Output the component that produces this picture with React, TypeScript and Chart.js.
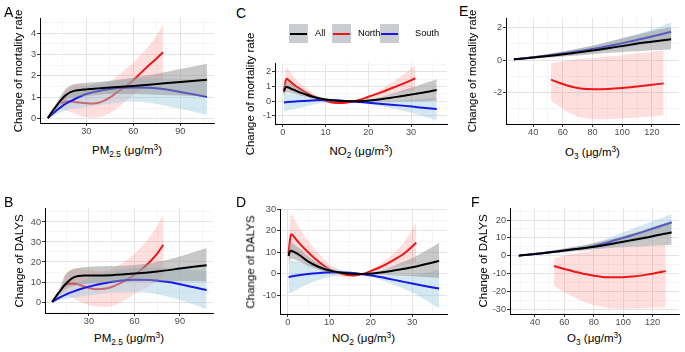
import React, { useEffect, useRef } from 'react';
import { Chart, registerables } from 'chart.js';
Chart.register(...registerables);

// ---------- tick values ----------
const PM_X_MAJOR = [30, 60, 90];
const PM_X_MINOR = [15, 45, 75, 105];
const NO2_X_MAJOR = [0, 10, 20, 30];
const NO2_X_MINOR = [5, 15, 25, 35];
const O3_X_MAJOR = [40, 60, 80, 100, 120];
const O3_X_MINOR = [30, 50, 70, 90, 110, 130];
const A_Y_MAJOR = [0, 1, 2, 3, 4];
const A_Y_MINOR = [0.5, 1.5, 2.5, 3.5, 4.5];
const B_Y_MAJOR = [0, 10, 20, 30, 40];
const B_Y_MINOR = [-5, 5, 15, 25, 35, 45];
const C_Y_MAJOR = [-1, 0, 1, 2];
const C_Y_MINOR = [-1.5, -0.5, 0.5, 1.5, 2.5];
const D_Y_MAJOR = [-10, 0, 10, 20, 30];
const D_Y_MINOR = [-15, -5, 5, 15, 25];
const E_Y_MAJOR = [-2, 0, 2];
const E_Y_MINOR = [-3, -1, 1];
const F_Y_MAJOR = [-30, -20, -10, 0, 10, 20];
const F_Y_MINOR = [-25, -15, -5, 5, 15, 25];

const LEGEND_LABELS = ['All', 'North', 'South'];

// ---------- Panel A: PM2.5 / mortality ----------
const A_ALL_X = [5.5, 8, 11, 14, 17, 20, 23, 27, 35, 45, 60, 75, 90, 107];
const A_ALL_Y = [0.03, 0.3, 0.6, 0.88, 1.1, 1.24, 1.31, 1.35, 1.4, 1.46, 1.53, 1.62, 1.71, 1.82];
const A_ALL_LO = [0.0, 0.2, 0.45, 0.65, 0.85, 0.95, 1.0, 1.05, 1.1, 1.15, 1.15, 1.12, 1.08, 1.04];
const A_ALL_HI = [0.07, 0.4, 0.75, 1.1, 1.4, 1.55, 1.62, 1.66, 1.7, 1.76, 1.92, 2.1, 2.32, 2.57];
const A_NORTH_X = [14, 17, 20, 24, 28, 32, 36, 40, 45, 50, 55, 60, 65, 70, 75, 79];
const A_NORTH_Y = [0.7, 0.8, 0.8, 0.77, 0.73, 0.71, 0.72, 0.8, 0.98, 1.25, 1.5, 1.8, 2.15, 2.5, 2.82, 3.1];
const A_NORTH_LO = [0.45, 0.4, 0.3, 0.2, 0.1, 0.05, 0.05, 0.1, 0.25, 0.5, 0.8, 1.1, 1.4, 1.6, 1.75, 1.82];
const A_NORTH_HI = [1.0, 1.3, 1.5, 1.55, 1.55, 1.55, 1.55, 1.6, 1.75, 2.0, 2.3, 2.6, 3.0, 3.4, 3.9, 4.4];
const A_SOUTH_X = [5.5, 8, 11, 14, 17, 20, 25, 30, 40, 50, 60, 70, 80, 90, 100, 107];
const A_SOUTH_Y = [0.03, 0.2, 0.38, 0.55, 0.7, 0.82, 1.0, 1.15, 1.33, 1.43, 1.46, 1.44, 1.37, 1.25, 1.12, 1.02];
const A_SOUTH_LO = [0.0, 0.1, 0.2, 0.3, 0.38, 0.45, 0.5, 0.55, 0.65, 0.75, 0.8, 0.75, 0.62, 0.46, 0.3, 0.19];
const A_SOUTH_HI = [0.06, 0.3, 0.55, 0.8, 1.0, 1.15, 1.35, 1.5, 1.7, 1.8, 1.85, 1.87, 1.88, 1.85, 1.85, 1.85];

// ---------- Panel B: PM2.5 / DALYs ----------
const B_ALL_X = [5.7, 8, 11, 14, 17, 20, 23, 27, 35, 45, 60, 75, 90, 107.6];
const B_ALL_Y = [0, 2.5, 5.5, 8.5, 10.8, 12.3, 13, 13.2, 13.2, 13.4, 14.2, 15.3, 16.7, 18.4];
const B_ALL_LO = [0, 1.5, 3.5, 5.5, 7, 8, 8.5, 9, 9.5, 10, 10.3, 10.4, 10.4, 10.3];
const B_ALL_HI = [0.3, 3.5, 7.5, 13, 15.5, 16.5, 17, 17.5, 17.8, 18, 18.5, 20, 22.8, 27];
const B_NORTH_X = [13, 16, 19, 22, 26, 30, 35, 40, 45, 50, 55, 60, 65, 70, 75, 79];
const B_NORTH_Y = [8, 9, 9.3, 9, 8, 7, 6.4, 6.6, 7.5, 9.2, 11.2, 13.6, 16.5, 20, 24.2, 28.6];
const B_NORTH_LO = [4, 3, 2, 1, -0.5, -1.5, -2.3, -2.5, -2, -0.5, 1.5, 4, 6, 8, 10.5, 12.5];
const B_NORTH_HI = [12, 15, 16.5, 17, 16.5, 16, 15.5, 15.5, 16.5, 18.5, 21, 24, 28, 32.5, 38, 44];
const B_SOUTH_X = [5.7, 10, 15, 20, 25, 30, 40, 50, 60, 70, 80, 90, 100, 107.6];
const B_SOUTH_Y = [0, 2, 3.8, 5.3, 6.6, 7.7, 9.4, 10.6, 11.1, 11, 10.2, 8.9, 7.2, 6];
const B_SOUTH_LO = [0, 0.8, 1.5, 2.2, 2.8, 3.3, 4.2, 5, 5, 4.5, 3, 1, -1.5, -3.5];
const B_SOUTH_HI = [0, 3, 5.8, 8.2, 10.2, 12, 14.5, 16, 17, 17.3, 17, 16.5, 16, 15.5];

// ---------- Panel C: NO2 / mortality ----------
const C_ALL_X = [0.3, 0.6, 0.9, 2, 3, 5, 7, 10, 13, 16, 19, 22, 25, 28, 31, 34, 36];
const C_ALL_Y = [0.7, 0.92, 0.97, 0.85, 0.72, 0.5, 0.3, 0.12, 0.03, 0, 0.02, 0.1, 0.22, 0.36, 0.5, 0.65, 0.77];
const C_ALL_LO = [0.3, 0.55, 0.6, 0.55, 0.48, 0.33, 0.2, 0.07, 0.01, -0.01, -0.02, -0.03, -0.03, -0.02, 0, 0.02, 0.03];
const C_ALL_HI = [1.1, 1.3, 1.35, 1.15, 0.97, 0.67, 0.42, 0.18, 0.05, 0.01, 0.06, 0.22, 0.45, 0.75, 1.0, 1.3, 1.5];
const C_NORTH_X = [0.3, 0.5, 0.9, 1.5, 2.5, 4, 6, 8, 10, 12, 14, 16, 18, 20, 23, 26, 29, 31];
const C_NORTH_Y = [0.6, 1.1, 1.52, 1.4, 1.15, 0.85, 0.5, 0.22, 0.03, -0.1, -0.12, -0.04, 0.1, 0.3, 0.6, 0.95, 1.3, 1.56];
const C_NORTH_LO = [0.3, 0.6, 0.85, 0.8, 0.65, 0.45, 0.22, 0.05, -0.08, -0.18, -0.18, -0.06, 0.03, 0.12, 0.3, 0.5, 0.65, 0.72];
const C_NORTH_HI = [0.9, 1.6, 2.3, 2.1, 1.7, 1.25, 0.78, 0.4, 0.14, -0.02, -0.06, -0.02, 0.13, 0.38, 0.8, 1.35, 2.0, 2.45];
const C_SOUTH_X = [0.3, 3, 6, 9, 12, 16, 20, 24, 28, 32, 36];
const C_SOUTH_Y = [-0.08, -0.02, 0.04, 0.08, 0.07, 0, -0.1, -0.2, -0.3, -0.42, -0.53];
const C_SOUTH_LO = [-0.7, -0.5, -0.3, -0.1, 0.0, -0.01, -0.2, -0.4, -0.65, -0.95, -1.3];
const C_SOUTH_HI = [0.5, 0.45, 0.38, 0.25, 0.14, 0.01, 0.0, 0.0, 0.05, 0.15, 0.25];

// ---------- Panel D: NO2 / DALYs ----------
const D_ALL_X = [0.2, 0.5, 0.8, 1.5, 3, 5, 7, 9, 11, 13, 15, 17, 19, 22, 25, 28, 31, 34, 36.5];
const D_ALL_Y = [8.3, 10.3, 10.7, 10.2, 8.5, 5.6, 3.6, 2.1, 1.1, 0.4, 0, -0.1, 0, 0.5, 1.3, 2.3, 3.4, 4.8, 6];
const D_ALL_LO = [5, 6.5, 7, 6.7, 5.5, 3.6, 2.2, 1.1, 0.5, 0.1, -0.1, -0.2, -0.2, -0.4, -0.7, -1, -1.3, -1.7, -2];
const D_ALL_HI = [11.5, 14, 14.5, 13.7, 11.5, 8, 5.4, 3.3, 1.8, 0.8, 0.2, 0.05, 0.3, 1.4, 3.3, 5.6, 8.3, 11.5, 14.5];
const D_NORTH_X = [0.2, 0.5, 0.8, 1.2, 2, 3, 4.5, 6, 8, 10, 12, 14, 16, 18, 20, 22, 24, 26, 28, 31];
const D_NORTH_Y = [9.5, 15, 18.4, 18, 16, 13.8, 10.8, 8, 4.8, 2.2, 0.5, -0.5, -0.8, -0.2, 1.2, 2.8, 4.7, 6.9, 9.3, 14.5];
const D_NORTH_LO = [6, 8, 9.5, 9.5, 8.5, 7, 5, 3.2, 1.2, -0.2, -1.2, -1.7, -1.5, -0.5, 0.5, 1.5, 2.5, 3.3, 4, 5];
const D_NORTH_HI = [13, 22, 28, 27, 24, 20.8, 16.5, 12.8, 8.5, 4.7, 2.2, 0.7, 0, 0.1, 1.9, 4.1, 7, 10.5, 14.5, 24];
const D_SOUTH_X = [0.2, 3, 6, 9, 12, 15, 18, 21, 24, 27, 30, 33, 36.5];
const D_SOUTH_Y = [-1.5, -0.6, 0.1, 0.6, 0.7, 0.4, -0.2, -1.1, -2.2, -3.4, -4.6, -5.7, -6.9];
const D_SOUTH_LO = [-9.5, -6.5, -4, -2, -0.7, -0.1, -0.3, -2, -4, -6.2, -8.8, -12, -16];
const D_SOUTH_HI = [6.5, 5.3, 4.2, 3.2, 2.1, 0.9, -0.1, -0.2, -0.4, -0.6, -0.5, 0.3, 2];

// ---------- Panel E: O3 / mortality ----------
const E_ALL_X = [27, 35, 45, 55, 65, 75, 85, 95, 105, 115, 125, 133];
const E_ALL_Y = [0.05, 0.11, 0.2, 0.3, 0.41, 0.53, 0.66, 0.8, 0.94, 1.08, 1.2, 1.29];
const E_ALL_LO = [0.02, 0.06, 0.12, 0.18, 0.25, 0.32, 0.4, 0.47, 0.53, 0.58, 0.62, 0.65];
const E_ALL_HI = [0.08, 0.17, 0.3, 0.45, 0.61, 0.8, 1.0, 1.22, 1.45, 1.68, 1.9, 2.05];
const E_NORTH_X = [52, 58, 64, 70, 76, 82, 90, 100, 110, 120, 128];
const E_NORTH_Y = [-1.21, -1.42, -1.6, -1.72, -1.79, -1.8, -1.78, -1.72, -1.63, -1.53, -1.44];
const E_NORTH_LO = [-2.5, -2.9, -3.25, -3.48, -3.6, -3.65, -3.65, -3.6, -3.55, -3.48, -3.4];
const E_NORTH_HI = [-0.2, -0.1, -0.02, 0.05, 0.1, 0.15, 0.22, 0.3, 0.4, 0.5, 0.6];
const E_SOUTH_X = [27, 35, 45, 55, 65, 75, 85, 95, 105, 115, 125, 133];
const E_SOUTH_Y = [0.05, 0.12, 0.22, 0.34, 0.47, 0.61, 0.77, 0.95, 1.14, 1.35, 1.57, 1.75];
const E_SOUTH_LO = [0.02, 0.07, 0.14, 0.23, 0.32, 0.42, 0.54, 0.67, 0.81, 0.96, 1.1, 1.2];
const E_SOUTH_HI = [0.08, 0.17, 0.3, 0.45, 0.62, 0.8, 1.0, 1.23, 1.47, 1.74, 2.05, 2.3];

// ---------- Panel F: O3 / DALYs ----------
const F_ALL_X = [29, 35, 45, 55, 65, 75, 85, 95, 105, 115, 125, 133];
const F_ALL_Y = [0, 0.5, 1.4, 2.4, 3.4, 4.4, 5.6, 7.1, 8.6, 10.1, 11.8, 13];
const F_ALL_LO = [0, 0.3, 0.9, 1.6, 2.3, 3, 3.7, 4.4, 5, 5.5, 5.9, 6.2];
const F_ALL_HI = [0.1, 0.8, 2, 3.3, 4.7, 6.2, 7.9, 9.9, 12.2, 14.6, 17.2, 19.5];
const F_NORTH_X = [53, 60, 67, 75, 83, 91, 99, 107, 115, 122, 129];
const F_NORTH_Y = [-5.8, -7.5, -9, -10.5, -11.6, -12.2, -12.2, -11.7, -10.8, -9.8, -8.7];
const F_NORTH_LO = [-17, -20.5, -23.5, -26.5, -28.5, -29.5, -29.8, -29.7, -29.5, -29.2, -29];
const F_NORTH_HI = [-1.5, 0, 1.2, 2.4, 3.4, 4.2, 4.8, 5.3, 5.7, 6.0, 6.3];
const F_SOUTH_X = [29, 35, 45, 55, 65, 75, 85, 95, 105, 115, 125, 133];
const F_SOUTH_Y = [0, 0.5, 1.4, 2.4, 3.4, 4.5, 6.4, 8.8, 11.2, 13.8, 16.5, 18.7];
const F_SOUTH_LO = [0, 0.3, 0.9, 1.6, 2.4, 3.2, 4.2, 5.6, 7.3, 9, 11, 13];
const F_SOUTH_HI = [0.1, 0.8, 2, 3.3, 4.6, 6, 8.4, 11.5, 14.7, 17.8, 20.8, 23.4];

// ---------- styles ----------
const FONT = '"Liberation Sans", Arial, Helvetica, sans-serif';
const COL_ALL = '#000000';
const COL_NORTH = 'rgb(236,24,24)';
const COL_SOUTH = 'rgb(24,24,230)';
const BAND_ALL = 'rgba(150,150,150,0.52)';
const BAND_NORTH = 'rgba(255,60,60,0.17)';
const BAND_SOUTH = 'rgba(160,205,225,0.45)';

type Series = { xs: number[]; y: number[]; lo: number[]; hi: number[] };
type PanelCfg = {
  letter: string;
  rect: [number, number, number, number];
  xr: [number, number];
  yr: [number, number];
  xMajor: number[];
  xMinor: number[];
  yMajor: number[];
  yMinor: number[];
  all: Series;
  north: Series;
  south: Series;
  xTitle: 'pm' | 'no2' | 'o3';
  yTitle: string;
  letterPos: [number, number];
  yTitleX: number;
  xTitleY: number;
};

const S = (xs: number[], y: number[], lo: number[], hi: number[]): Series => ({ xs, y, lo, hi });

const PANELS: PanelCfg[] = [
  {
    letter: 'A', rect: [40, 18, 214, 123], xr: [0.5, 111.5], yr: [-0.2, 4.7],
    xMajor: PM_X_MAJOR, xMinor: PM_X_MINOR, yMajor: A_Y_MAJOR, yMinor: A_Y_MINOR,
    all: S(A_ALL_X, A_ALL_Y, A_ALL_LO, A_ALL_HI),
    north: S(A_NORTH_X, A_NORTH_Y, A_NORTH_LO, A_NORTH_HI),
    south: S(A_SOUTH_X, A_SOUTH_Y, A_SOUTH_LO, A_SOUTH_HI),
    xTitle: 'pm', yTitle: 'Change of mortality rate', letterPos: [4, 5], yTitleX: 19, xTitleY: 151,
  },
  {
    letter: 'B', rect: [45, 208, 213, 313], xr: [1, 111.8], yr: [-5.5, 47],
    xMajor: PM_X_MAJOR, xMinor: PM_X_MINOR, yMajor: B_Y_MAJOR, yMinor: B_Y_MINOR,
    all: S(B_ALL_X, B_ALL_Y, B_ALL_LO, B_ALL_HI),
    north: S(B_NORTH_X, B_NORTH_Y, B_NORTH_LO, B_NORTH_HI),
    south: S(B_SOUTH_X, B_SOUTH_Y, B_SOUTH_LO, B_SOUTH_HI),
    xTitle: 'pm', yTitle: 'Change of DALYS', letterPos: [4, 195], yTitleX: 19.5, xTitleY: 339,
  },
  {
    letter: 'C', rect: [275, 63, 447, 124], xr: [-1.8, 38.4], yr: [-1.55, 2.6],
    xMajor: NO2_X_MAJOR, xMinor: NO2_X_MINOR, yMajor: C_Y_MAJOR, yMinor: C_Y_MINOR,
    all: S(C_ALL_X, C_ALL_Y, C_ALL_LO, C_ALL_HI),
    north: S(C_NORTH_X, C_NORTH_Y, C_NORTH_LO, C_NORTH_HI),
    south: S(C_SOUTH_X, C_SOUTH_Y, C_SOUTH_LO, C_SOUTH_HI),
    xTitle: 'no2', yTitle: 'Change of mortality rate', letterPos: [236, 6], yTitleX: 251, xTitleY: 152,
  },
  {
    letter: 'D', rect: [280, 209, 447, 314], xr: [-1.86, 38.4], yr: [-18.8, 30.2],
    xMajor: NO2_X_MAJOR, xMinor: NO2_X_MINOR, yMajor: D_Y_MAJOR, yMinor: D_Y_MINOR,
    all: S(D_ALL_X, D_ALL_Y, D_ALL_LO, D_ALL_HI),
    north: S(D_NORTH_X, D_NORTH_Y, D_NORTH_LO, D_NORTH_HI),
    south: S(D_SOUTH_X, D_SOUTH_Y, D_SOUTH_LO, D_SOUTH_HI),
    xTitle: 'no2', yTitle: 'Change of DALYS', letterPos: [236, 195], yTitleX: 251, xTitleY: 339,
  },
  {
    letter: 'E', rect: [506, 18, 679, 124], xr: [21.7, 138.3], yr: [-3.95, 2.6],
    xMajor: O3_X_MAJOR, xMinor: O3_X_MINOR, yMajor: E_Y_MAJOR, yMinor: E_Y_MINOR,
    all: S(E_ALL_X, E_ALL_Y, E_ALL_LO, E_ALL_HI),
    north: S(E_NORTH_X, E_NORTH_Y, E_NORTH_LO, E_NORTH_HI),
    south: S(E_SOUTH_X, E_SOUTH_Y, E_SOUTH_LO, E_SOUTH_HI),
    xTitle: 'o3', yTitle: 'Change of mortality rate', letterPos: [459, 4], yTitleX: 473, xTitleY: 153,
  },
  {
    letter: 'F', rect: [510, 208, 679, 314], xr: [23, 138], yr: [-32.8, 26.8],
    xMajor: O3_X_MAJOR, xMinor: O3_X_MINOR, yMajor: F_Y_MAJOR, yMinor: F_Y_MINOR,
    all: S(F_ALL_X, F_ALL_Y, F_ALL_LO, F_ALL_HI),
    north: S(F_NORTH_X, F_NORTH_Y, F_NORTH_LO, F_NORTH_HI),
    south: S(F_SOUTH_X, F_SOUTH_Y, F_SOUTH_LO, F_SOUTH_HI),
    xTitle: 'o3', yTitle: 'Change of DALYS', letterPos: [471, 195], yTitleX: 484, xTitleY: 339,
  },
];

const YW = 32;
const XH = 16;
const PAD_T = 8;
const PAD_R = 4;

const pts = (xs: number[], ys: number[]) => xs.map((x, i) => ({ x, y: ys[i] }));

// drawing order (bottom -> top): North band, North line, South band, South line, All band, All line
function buildDatasets(p: PanelCfg) {
  const base = { pointRadius: 0, cubicInterpolationMode: 'monotone' as const, tension: 0.4 };
  const edge = { ...base, borderWidth: 0, borderColor: 'rgba(0,0,0,0)' };
  const line = (c: string) => ({ ...base, borderWidth: 2, borderColor: c, fill: false });
  return [
    { ...edge, data: pts(p.north.xs, p.north.hi), fill: false, order: 60 },
    { ...edge, data: pts(p.north.xs, p.north.lo), fill: 0, backgroundColor: BAND_NORTH, order: 60 },
    { ...line(COL_NORTH), data: pts(p.north.xs, p.north.y), order: 55 },
    { ...edge, data: pts(p.south.xs, p.south.hi), fill: false, order: 50 },
    { ...edge, data: pts(p.south.xs, p.south.lo), fill: 3, backgroundColor: BAND_SOUTH, order: 50 },
    { ...line(COL_SOUTH), data: pts(p.south.xs, p.south.y), order: 40 },
    { ...edge, data: pts(p.all.xs, p.all.hi), fill: false, order: 20 },
    { ...edge, data: pts(p.all.xs, p.all.lo), fill: 6, backgroundColor: BAND_ALL, order: 20 },
    { ...line(COL_ALL), data: pts(p.all.xs, p.all.y), order: 10 },
  ];
}

function axis(min: number, max: number, major: number[], minor: number[], isX: boolean) {
  const isMajor = (v: number) => major.some((m) => Math.abs(m - v) < 1e-9);
  return {
    type: 'linear' as const,
    min,
    max,
    afterBuildTicks: (s: any) => {
      s.ticks = [...major, ...minor].sort((a, b) => a - b).map((v) => ({ value: v }));
    },
    afterFit: (s: any) => {
      if (isX) s.height = XH;
      else s.width = YW;
    },
    ticks: {
      autoSkip: false,
      maxRotation: 0,
      minRotation: 0,
      padding: isX ? 0 : 1,
      color: '#4d4d4d',
      font: { family: FONT, size: 9.2 },
      callback: (v: any) => (isMajor(Number(v)) ? String(v) : ''),
    },
    grid: {
      drawTicks: true,
      tickLength: 3,
      color: (ctx: any) => (ctx.tick && isMajor(ctx.tick.value) ? '#e4e4e4' : '#f1f1f1'),
      lineWidth: (ctx: any) => (ctx.tick && isMajor(ctx.tick.value) ? 1 : 0.7),
      tickColor: (ctx: any) => (ctx.tick && isMajor(ctx.tick.value) ? '#333333' : 'rgba(0,0,0,0)'),
      tickWidth: 1,
    },
    border: { display: true, color: '#000000', width: 1 },
  };
}

function PanelChart({ p }: { p: PanelCfg }) {
  const ref = useRef<HTMLCanvasElement | null>(null);
  const [l, t, r, b] = p.rect;
  const w = r - l + YW + PAD_R;
  const h = b - t + XH + PAD_T;
  useEffect(() => {
    if (!ref.current) return;
    const chart = new Chart(ref.current, {
      type: 'line',
      data: { datasets: buildDatasets(p) as any },
      options: {
        responsive: false,
        animation: false,
        devicePixelRatio: 1,
        layout: { padding: { left: 0, right: PAD_R, top: PAD_T, bottom: 0 } },
        plugins: { legend: { display: false }, tooltip: { enabled: false } },
        scales: {
          x: axis(p.xr[0], p.xr[1], p.xMajor, p.xMinor, true) as any,
          y: axis(p.yr[0], p.yr[1], p.yMajor, p.yMinor, false) as any,
        },
      },
    });
    return () => chart.destroy();
  }, []);
  return (
    <canvas
      ref={ref}
      width={w}
      height={h}
      style={{ position: 'absolute', left: l - YW, top: t - PAD_T, width: w, height: h }}
    />
  );
}

const subStyle: React.CSSProperties = { fontSize: '0.72em', verticalAlign: '-0.3em', lineHeight: 0 };
const supStyle: React.CSSProperties = { fontSize: '0.72em', verticalAlign: '0.5em', lineHeight: 0 };

function XTitle({ kind }: { kind: 'pm' | 'no2' | 'o3' }) {
  const unit = (
    <>
      {' (μg/m'}
      <sup style={supStyle}>3</sup>
      {')'}
    </>
  );
  if (kind === 'pm')
    return (
      <>
        PM<sub style={subStyle}>2.5</sub>
        {unit}
      </>
    );
  if (kind === 'no2')
    return (
      <>
        NO<sub style={subStyle}>2</sub>
        {unit}
      </>
    );
  return (
    <>
      O<sub style={subStyle}>3</sub>
      {unit}
    </>
  );
}

export default function App() {
  const text: React.CSSProperties = {
    position: 'absolute',
    fontFamily: FONT,
    color: '#000',
    whiteSpace: 'nowrap',
    lineHeight: 1,
  };
  const legendX = [289, 332, 380];
  const legendTextX = [315, 358, 415];
  const legendCols = [COL_ALL, COL_NORTH, COL_SOUTH];
  return (
    <div style={{ position: 'absolute', left: 0, top: 0, width: 685, height: 352, background: '#fff', overflow: 'hidden' }}>
      {PANELS.map((p) => {
        const [l, t, r, b] = p.rect;
        return (
          <React.Fragment key={p.letter}>
            <PanelChart p={p} />
            <div style={{ ...text, fontSize: 14, left: p.letterPos[0], top: p.letterPos[1] }}>{p.letter}</div>
            <div
              style={{
                ...text,
                fontSize: 11.5,
                left: (l + r) / 2,
                top: p.xTitleY,
                transform: 'translate(-50%, -50%)',
              }}
            >
              <XTitle kind={p.xTitle} />
            </div>
            <div
              style={{
                ...text,
                fontSize: 11.5,
                left: p.yTitleX,
                top: (t + b) / 2,
                transform: 'translate(-50%, -50%) rotate(-90deg)',
              }}
            >
              {p.yTitle}
            </div>
          </React.Fragment>
        );
      })}
      {LEGEND_LABELS.map((lab, i) => (
        <React.Fragment key={lab}>
          <div
            style={{
              position: 'absolute',
              left: legendX[i],
              top: 24,
              width: 19,
              height: 19,
              background: '#c9ccd1',
            }}
          >
            <div style={{ position: 'absolute', left: 1, top: 8.5, width: 17, height: 2, background: legendCols[i] }} />
          </div>
          <div style={{ ...text, fontSize: 9.2, left: legendTextX[i], top: 33.5, transform: 'translateY(-50%)' }}>{lab}</div>
        </React.Fragment>
      ))}
    </div>
  );
}
